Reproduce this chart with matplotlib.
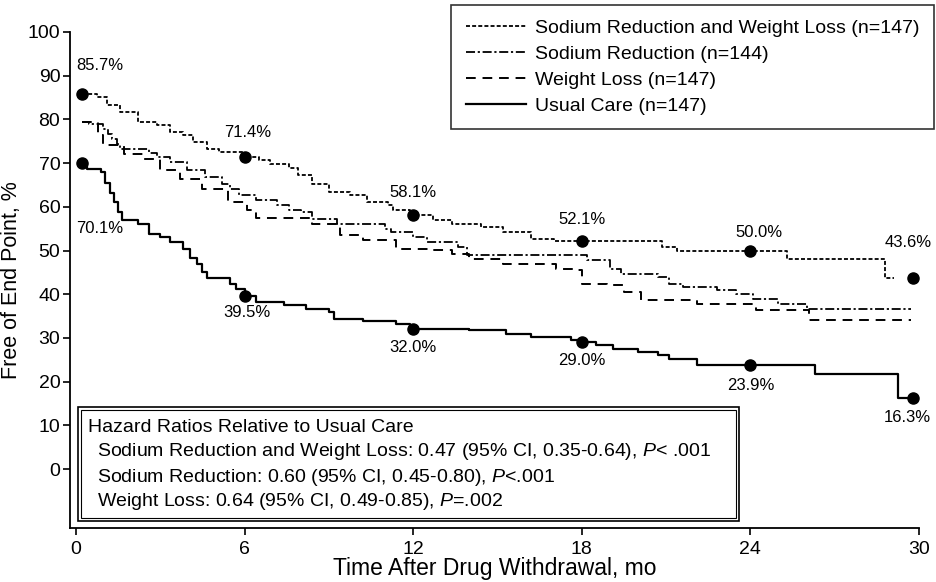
import matplotlib
matplotlib.use("Agg")
import matplotlib.pyplot as plt
from matplotlib.patches import Rectangle

plt.rcParams['font.family'] = ['Liberation Sans', 'DejaVu Sans']
plt.rcParams['mathtext.fontset'] = 'custom'
plt.rcParams['mathtext.rm'] = 'Liberation Sans'
plt.rcParams['mathtext.it'] = 'Liberation Sans:italic'

# ---------------- data ----------------
srwl_t = [0.2, 0.75, 1.1, 1.57, 2.2, 2.9, 3.35, 3.8, 4.15, 4.65, 5.1, 5.95, 6.5, 6.9, 7.6, 7.9,
          8.4, 9.0, 9.75, 10.35, 11.1, 11.3, 11.9, 12.7, 13.4, 14.4, 15.2, 16.2, 17.0, 20.85,
          21.4, 25.3, 28.8, 29.1]
srwl_v = [85.7, 85.1, 83.2, 81.7, 79.4, 78.7, 77.1, 76.4, 74.8, 73.2, 72.5, 71.4, 70.6, 69.8, 68.8, 67.2,
          65.2, 63.3, 62.7, 61.1, 60.4, 59.2, 58.1, 56.9, 56.0, 55.3, 54.2, 52.6, 52.1, 50.8,
          50.0, 48.0, 43.6, 43.6]

sr_t = [0.2, 0.45, 0.97, 1.15, 1.3, 1.45, 1.57, 2.6, 2.9, 3.35, 3.95, 4.6, 5.2, 5.5, 5.8, 6.4,
        7.15, 7.6, 8.0, 8.4, 9.3, 11.0, 11.2, 12.0, 12.5, 13.6, 13.9, 18.2, 19.0, 19.4, 20.7,
        21.1, 21.6, 22.8, 23.5, 24.1, 25.0, 26.0, 29.7]
sr_v = [79.5, 78.9, 77.8, 76.6, 75.5, 74.3, 73.2, 72.3, 71.4, 70.2, 68.4, 66.8, 65.2, 64.0, 62.7, 61.5,
        60.4, 59.2, 58.8, 57.2, 56.0, 55.0, 54.2, 53.0, 51.9, 50.8, 49.0, 47.8, 45.7, 44.6, 43.9,
        42.3, 41.6, 40.9, 40.0, 38.9, 37.7, 36.6, 36.6]

wl_t = [0.2, 0.8, 0.97, 1.7, 2.4, 3.0, 3.7, 4.5, 5.4, 6.1, 6.4, 8.4, 9.4, 10.2, 11.4, 12.6,
        13.4, 14.0, 15.2, 17.1, 17.8, 18.0, 18.9, 19.5, 20.1, 22.1, 24.2, 26.1, 29.7]
wl_v = [79.5, 76.4, 74.1, 72.0, 70.9, 68.4, 66.3, 64.0, 61.1, 59.2, 57.4, 56.0, 53.5, 52.4, 50.3, 50.1,
        49.2, 48.0, 46.9, 45.7, 45.5, 42.3, 42.1, 40.5, 38.6, 37.7, 36.3, 34.1, 34.1]

uc_t = [0.2, 0.4, 0.9, 1.05, 1.2, 1.35, 1.5, 1.65, 2.2, 2.6, 3.0, 3.35, 3.8, 4.05, 4.3, 4.5,
        4.65, 5.5, 5.7, 6.0, 6.4, 7.4, 8.2, 9.0, 9.2, 10.2, 11.4, 11.9, 14.0, 15.3, 16.2, 17.6,
        18.0, 18.5, 19.1, 20.0, 20.7, 21.1, 22.1, 26.3, 29.25, 29.8]
uc_v = [70.1, 68.7, 67.9, 65.5, 63.2, 61.0, 58.8, 57.0, 56.0, 53.8, 53.0, 52.0, 50.4, 48.2, 47.0, 45.0,
        43.6, 42.4, 41.2, 39.5, 38.3, 37.6, 36.7, 36.0, 34.4, 33.8, 33.2, 32.0, 31.7, 30.9, 30.3, 29.6,
        29.0, 28.4, 27.5, 26.8, 26.1, 25.2, 23.9, 21.7, 16.3, 16.3]

dot_t = [0.2, 6, 12, 18, 24, 29.8]
srwl_dots = [85.7, 71.4, 58.1, 52.1, 50.0, 43.6]
uc_dots = [70.1, 39.5, 32.0, 29.0, 23.9, 16.3]

x_ticks = [0, 6, 12, 18, 24, 30]
y_ticks = [0, 10, 20, 30, 40, 50, 60, 70, 80, 90, 100]

legend_labels = ["Sodium Reduction and Weight Loss (n=147)", "Sodium Reduction (n=144)",
                 "Weight Loss (n=147)", "Usual Care (n=147)"]

# ---------------- figure ----------------
W, H = 937, 582
fig = plt.figure(figsize=(W / 100, H / 100), dpi=100)

def fx(px):
    return px / W

def fy(py):
    return 1 - py / H

ax = fig.add_axes([fx(70), fy(528), fx(919) - fx(70), fy(32) - fy(528)])
ax.set_xlim(-0.21, 30)
ax.set_ylim(-13.5, 100)

l1, = ax.plot(srwl_t, srwl_v, drawstyle='steps-post', color='black', lw=1.3,
              linestyle=(0, (2.2, 1.2)))
l2, = ax.plot(sr_t, sr_v, drawstyle='steps-post', color='black', lw=1.3,
              linestyle=(0, (5, 1.5, 1.2, 1.5)))
l3, = ax.plot(wl_t, wl_v, drawstyle='steps-post', color='black', lw=1.4,
              linestyle=(0, (5, 3.5)))
l4, = ax.plot(uc_t, uc_v, drawstyle='steps-post', color='black', lw=1.6)

ax.plot(dot_t, srwl_dots, 'o', color='black', ms=8, zorder=5)
ax.plot(dot_t, uc_dots, 'o', color='black', ms=8, zorder=5)

# percentage annotations
lab_fs = 12
ann = [
    (0.0, 92.4, "85.7%", 'left'), (6.1, 76.9, "71.4%", 'center'), (12.0, 63.2, "58.1%", 'center'),
    (18.0, 57.0, "52.1%", 'center'), (24.3, 54.2, "50.0%", 'center'), (29.6, 51.9, "43.6%", 'center'),
    (0.0, 55.1, "70.1%", 'left'), (6.1, 35.7, "39.5%", 'center'), (12.0, 27.9, "32.0%", 'center'),
    (18.0, 24.9, "29.0%", 'center'), (24.0, 19.2, "23.9%", 'center'), (29.6, 11.7, "16.3%", 'center'),
]
for x, y, s, ha in ann:
    ax.text(x, y, s, ha=ha, va='center', fontsize=lab_fs)

ax.spines['top'].set_visible(False)
ax.spines['right'].set_visible(False)
ax.spines['left'].set_linewidth(1.3)
ax.spines['bottom'].set_linewidth(1.3)
ax.set_xticks(x_ticks)
ax.set_yticks(y_ticks)
ax.tick_params(direction='out', length=5, width=1.2, labelsize=14)
ax.tick_params(axis='x', pad=4)
ax.tick_params(axis='y', pad=2)

ax.set_xlabel("Time After Drug Withdrawal, mo", fontsize=16.5, labelpad=0)
ax.set_ylabel("Free of End Point, %", fontsize=15.5, labelpad=4)

leg = ax.legend([l1, l2, l3, l4], legend_labels, loc='upper right',
                bbox_to_anchor=(fx(934), fy(5)), bbox_transform=fig.transFigure,
                fontsize=14, frameon=True, fancybox=False, handlelength=3.1,
                handletextpad=0.45, labelspacing=0.42, borderpad=0.75, borderaxespad=0)
leg.get_frame().set_edgecolor('black')
leg.get_frame().set_linewidth(1.2)

# hazard ratio box (double border)
fig.patches.append(Rectangle((fx(78), fy(521)), fx(739) - fx(78), fy(407) - fy(521),
                             transform=fig.transFigure, fill=False, edgecolor='black', lw=1.2))
fig.patches.append(Rectangle((fx(81), fy(518)), fx(736) - fx(81), fy(410) - fy(518),
                             transform=fig.transFigure, fill=False, edgecolor='black', lw=0.8))
fig.text(fx(88), fy(427), "Hazard Ratios Relative to Usual Care", fontsize=14, va='center')
hr_lines = [
    r"Sodium Reduction and Weight Loss: 0.47 (95% CI, 0.35-0.64), $\mathit{P}$< .001",
    r"Sodium Reduction: 0.60 (95% CI, 0.45-0.80), $\mathit{P}$<.001",
    r"Weight Loss: 0.64 (95% CI, 0.49-0.85), $\mathit{P}$=.002",
]
for py, s in zip([452, 477, 501], hr_lines):
    fig.text(fx(97), fy(py), s, fontsize=14, va='center')

fig.savefig("out.png", dpi=100)
